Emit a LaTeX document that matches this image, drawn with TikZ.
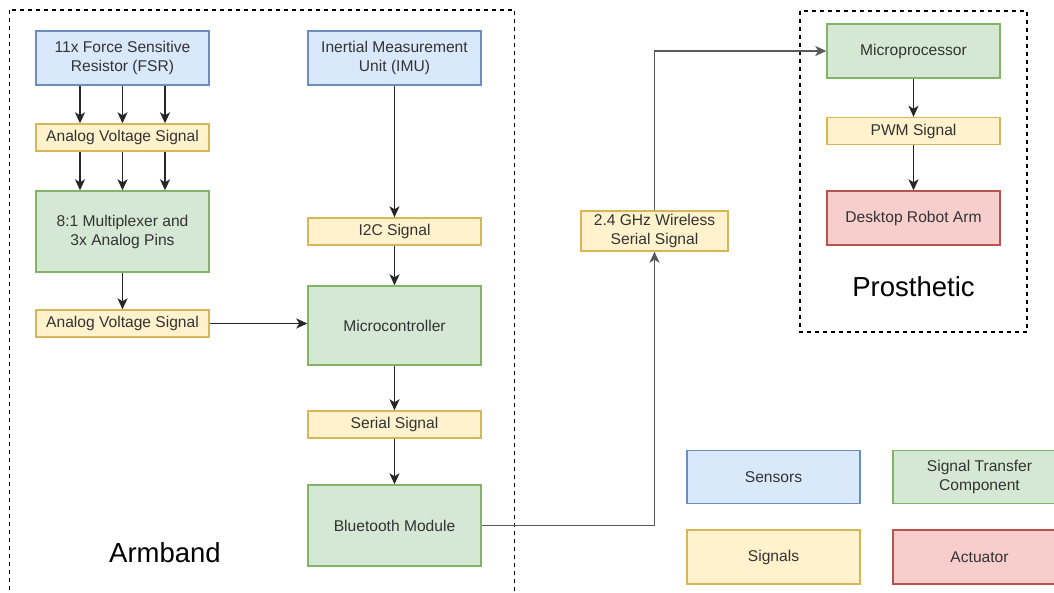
\documentclass[tikz,border=0pt]{standalone}
\usepackage{fontspec}
\setmainfont{Liberation Sans}
\usetikzlibrary{arrows.meta}

\definecolor{sensorfill}{HTML}{DAE8FC}
\definecolor{sensorline}{HTML}{6C8EBF}
\definecolor{signalfill}{HTML}{FFF2CC}
\definecolor{signalline}{HTML}{D6B656}
\definecolor{transferfill}{HTML}{D5E8D4}
\definecolor{transferline}{HTML}{82B366}
\definecolor{actfill}{HTML}{F8CECC}
\definecolor{actline}{HTML}{B85450}

\begin{document}
\begin{tikzpicture}[x=1pt, y=-1pt,
  box/.style = {draw, line width=1.4pt, minimum width=173pt, inner sep=0pt, align=center, text=black!80, font=\fontsize{15.6}{19}\selectfont},
  sensor/.style = {box, fill=sensorfill, draw=sensorline, minimum height=54pt},
  signal/.style = {box, fill=signalfill, draw=signalline, minimum height=27pt},
  transfer/.style = {box, fill=transferfill, draw=transferline},
  actuator/.style = {box, fill=actfill, draw=actline, minimum height=54pt},
  group/.style = {draw, line width=1.4pt, dash pattern=on 4pt off 4pt},
  title/.style = {font=\fontsize{27.5}{30}\selectfont},
  arr/.style = {line width=1.5pt, draw=black!85, -{Stealth[length=11pt, width=10pt, inset=3pt]}},
  wire/.style = {arr, draw=black!65}]
\clip (0,0) rectangle (1054,592);
\fill[white] (0,0) rectangle (1054,592);

% groups
\draw[group] (9.5,10) rectangle (514.5,640);
\draw[group] (800,11) rectangle (1027,332);
\node[title] (armband) at (165,553) {Armband};
\node[title] (prosthetic) at (913.5,287) {Prosthetic};

% armband
\node[sensor] (fsr) at (122.5,58) {11x Force Sensitive\\Resistor (FSR)};
\node[signal] (avs1) at (122.5,137.5) {Analog Voltage Signal};
\node[transfer, minimum height=81pt] (mux) at (122.5,231.5) {8:1 Multiplexer and\\3x Analog Pins};
\node[signal] (avs2) at (122.5,323.5) {Analog Voltage Signal};
\node[sensor] (imu) at (394.5,58) {Inertial Measurement\\Unit (IMU)};
\node[signal] (i2c) at (394.5,231.5) {I2C Signal};
\node[transfer, minimum height=79pt] (mc) at (394.5,325.5) {Microcontroller};
\node[signal] (ser) at (394.5,424.5) {Serial Signal};
\node[transfer, minimum height=81pt] (bt) at (394.5,525.5) {Bluetooth Module};

% wireless link
\node[signal, minimum width=147pt, minimum height=40pt] (wl) at (654.5,231) {2.4 GHz Wireless\\Serial Signal};

% prosthetic
\node[transfer, minimum height=54pt] (mp) at (913.5,51) {Microprocessor};
\node[signal] (pwm) at (913.5,131) {PWM Signal};
\node[actuator] (arm) at (913.5,218) {Desktop Robot Arm};

% legend
\node[sensor, minimum height=53pt] (lsens) at (773.5,477) {Sensors};
\node[transfer, minimum height=53pt] (ltrans) at (979.5,477) {Signal Transfer\\Component};
\node[signal, minimum height=54pt] (lsig) at (773.5,557) {Signals};
\node[actuator] (lact) at (979.5,557) {Actuator};

% connectors
\foreach \dx in {-42.5,0,42.5} {
  \draw[arr] ([xshift=\dx pt]fsr.south) -- ([xshift=\dx pt]avs1.north);
  \draw[arr] ([xshift=\dx pt]avs1.south) -- ([xshift=\dx pt]mux.north);
}
\draw[arr] (mux) -- (avs2);
\draw[arr] (avs2.east) -- (avs2.east -| mc.west);
\draw[arr] (imu) -- (i2c);
\draw[arr] (i2c) -- (mc);
\draw[arr] (mc) -- (ser);
\draw[arr] (ser) -- (bt);
\draw[wire] (bt.east) -| (wl.south);
\draw[wire] (wl.north) |- (mp.west);
\draw[arr] (mp) -- (pwm);
\draw[arr] (pwm) -- (arm);
\end{tikzpicture}
\end{document}
